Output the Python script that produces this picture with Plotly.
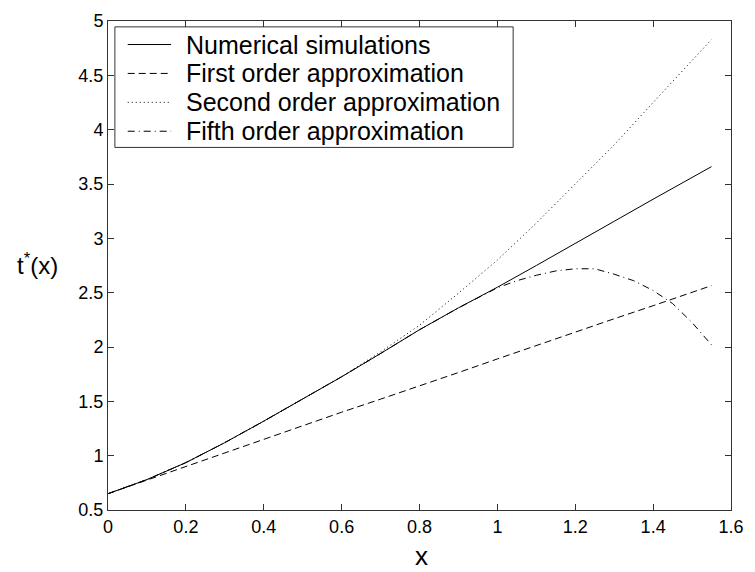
import plotly.graph_objects as go

# Numerical simulations
x_num = [0.0, 0.1, 0.2, 0.3, 0.4, 0.5, 0.6, 0.7, 0.8, 0.9, 1.0, 1.1, 1.2, 1.3, 1.4, 1.5, 1.55]
y_num = [0.65, 0.78, 0.936, 1.12, 1.318, 1.52, 1.726, 1.94, 2.159, 2.36, 2.55, 2.75, 2.955, 3.16, 3.36, 3.56, 3.66]

# First order approximation
x_first = [0.0, 0.1, 0.2, 0.3, 0.4, 0.5, 0.6, 0.7, 0.8, 0.9, 1.0, 1.1, 1.2, 1.3, 1.4, 1.5, 1.55]
y_first = [0.65, 0.775, 0.90, 1.03, 1.155, 1.28, 1.40, 1.52, 1.64, 1.765, 1.89, 2.015, 2.14, 2.26, 2.38, 2.50, 2.565]

# Second order approximation
x_second = [0.0, 0.1, 0.2, 0.3, 0.4, 0.5, 0.6, 0.7, 0.8, 0.9, 1.0, 1.1, 1.2, 1.3, 1.4, 1.5, 1.55]
y_second = [0.65, 0.78, 0.935, 1.12, 1.315, 1.52, 1.726, 1.955, 2.20, 2.495, 2.80, 3.14, 3.50, 3.86, 4.25, 4.63, 4.83]

# Fifth order approximation
x_fifth = [0.0, 0.1, 0.2, 0.3, 0.4, 0.5, 0.6, 0.7, 0.8, 0.9, 1.0, 1.05, 1.1, 1.15, 1.2, 1.25, 1.3, 1.35, 1.4, 1.45, 1.5, 1.55]
y_fifth = [0.65, 0.78, 0.936, 1.12, 1.318, 1.52, 1.726, 1.94, 2.159, 2.36, 2.545, 2.61, 2.66, 2.70, 2.72, 2.72, 2.67, 2.61, 2.52, 2.40, 2.225, 2.02]

series_names = ["Numerical simulations", "First order approximation",
                "Second order approximation", "Fifth order approximation"]

x_ticks = [0, 0.2, 0.4, 0.6, 0.8, 1, 1.2, 1.4, 1.6]
x_tick_text = ["0", "0.2", "0.4", "0.6", "0.8", "1", "1.2", "1.4", "1.6"]
y_ticks = [0.5, 1, 1.5, 2, 2.5, 3, 3.5, 4, 4.5, 5]
y_tick_text = ["0.5", "1", "1.5", "2", "2.5", "3", "3.5", "4", "4.5", "5"]

FONT = "Liberation Sans, Arial, sans-serif"
DASHES = ["solid", "7px,4px", "1px,3px", "7px,4px,1px,4px"]

# plot area geometry (pixels)
W, H = 755, 572
L, R, T, B = 108, 15, 11, 62
PW, PH = W - L - R, H - T - B


def px2paper_x(px):
    return (px - L) / PW


def py2paper_y(py):
    return (H - B - py) / PH


fig = go.Figure()
series = [(x_num, y_num), (x_first, y_first), (x_second, y_second), (x_fifth, y_fifth)]
for (xs, ys), name, dash in zip(series, series_names, DASHES):
    fig.add_trace(go.Scatter(x=xs, y=ys, mode="lines", name=name, showlegend=False,
                             line=dict(color="black", width=1, dash=dash)))

axis_common = dict(
    showgrid=False, zeroline=False, showline=True, linecolor="#333333", linewidth=1,
    mirror="ticks", ticks="inside", ticklen=6, tickwidth=1, tickcolor="#333333",
    tickfont=dict(family=FONT, size=18, color="black"),
)

# legend box drawn in paper coordinates (MATLAB-style legend)
shapes = [dict(type="rect", xref="paper", yref="paper",
               x0=px2paper_x(115), x1=px2paper_x(519),
               y0=py2paper_y(140), y1=py2paper_y(17),
               line=dict(color="#333333", width=1), fillcolor="white", layer="above")]
annotations = []
row_py = [35, 64.5, 94, 123.5]
for py, name, dash in zip(row_py, series_names, DASHES):
    shapes.append(dict(type="line", xref="paper", yref="paper",
                       x0=px2paper_x(128), x1=px2paper_x(172),
                       y0=py2paper_y(py), y1=py2paper_y(py),
                       line=dict(color="black", width=1, dash=dash), layer="above"))
    annotations.append(dict(text=name, xref="paper", yref="paper",
                            x=px2paper_x(185), y=py2paper_y(py),
                            xanchor="left", yanchor="middle", showarrow=False,
                            font=dict(family=FONT, size=25, color="black")))

annotations += [
    dict(text="t<sup>*</sup>(x)", xref="paper", yref="paper",
         x=px2paper_x(36), y=py2paper_y(259),
         xanchor="center", yanchor="middle", showarrow=False,
         font=dict(family=FONT, size=24, color="black")),
    dict(text="x", xref="paper", yref="paper",
         x=px2paper_x(426), y=py2paper_y(557),
         xanchor="center", yanchor="middle", showarrow=False,
         font=dict(family=FONT, size=26, color="black")),
]

fig.update_layout(
    width=W, height=H,
    margin=dict(l=L, r=R, t=T, b=B),
    paper_bgcolor="white", plot_bgcolor="white",
    font=dict(family=FONT, color="black"),
    xaxis=dict(range=[0, 1.6], tickvals=x_ticks, ticktext=x_tick_text, **axis_common),
    yaxis=dict(range=[0.5, 5], tickvals=y_ticks, ticktext=y_tick_text, **axis_common),
    showlegend=False,
    shapes=shapes,
    annotations=annotations,
)

fig.write_html("out.html")
